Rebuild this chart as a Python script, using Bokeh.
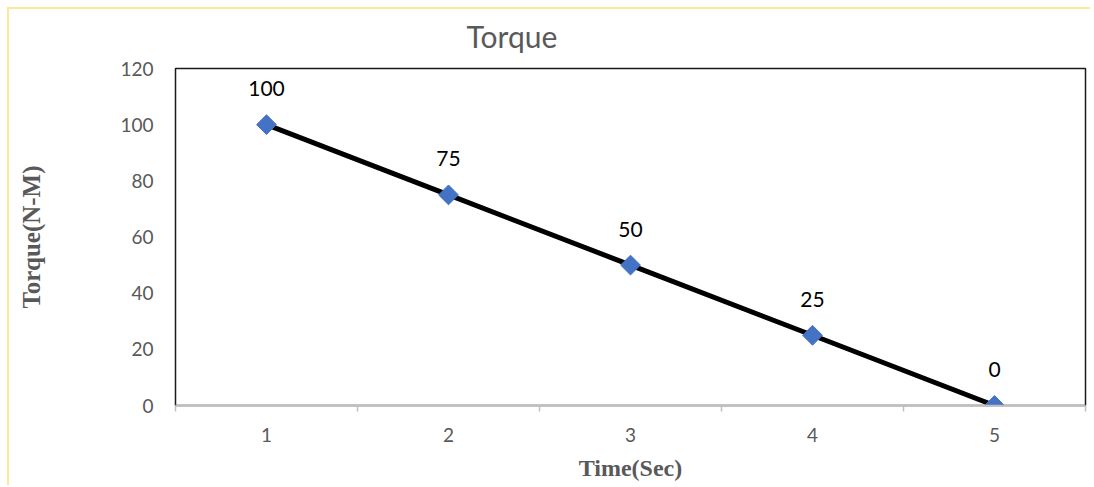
from bokeh.plotting import figure
from bokeh.models import Range1d, FixedTicker, ColumnDataSource
from bokeh.core.properties import value
from bokeh.embed import file_html
from bokeh.resources import INLINE
import math

# ---- data ----
time_sec = [1, 2, 3, 4, 5]
torque = [100, 75, 50, 25, 0]
labels = ["100", "75", "50", "25", "0"]
y_ticks = [0, 20, 40, 60, 80, 100, 120]
x_boundaries = [0.5, 1.5, 2.5, 3.5, 4.5, 5.5]

W, H = 1090, 485
p = figure(width=W, height=H, output_backend="svg", toolbar_location=None,
           x_range=Range1d(0.5, 5.5), y_range=Range1d(0, 120),
           min_border_left=175, min_border_right=5, min_border_top=68, min_border_bottom=80)
p.styles = {"box-shadow": "inset 7px 7px 0 0 white, inset 9px 9px 0 0 #FFE699"}
p.background_fill_color = "white"
p.border_fill_color = None
p.outline_line_color = "#1a1a1a"
p.outline_line_width = 1.5
p.xgrid.visible = False
p.ygrid.visible = False

# title
p.title.text = "Torque"
p.title.align = "left"
p.title.offset = 291
p.title.standoff = 29
p.title.text_font = "Lato"
p.title.text_font_style = "normal"
p.title.text_font_size = "30px"
p.title.text_color = "#595959"

src = ColumnDataSource(dict(x=time_sec, y=torque, t=labels))
p.line("x", "y", source=src, line_color="black", line_width=5)
p.scatter("x", "y", source=src, marker="square", angle=math.pi / 4, size=14,
          fill_color="#4472C4", line_color="#4472C4")
p.text("x", "y", text="t", source=src, y_offset=-36, text_align="center",
       text_baseline="middle", text_font=value("Lato"), text_font_size="21px",
       text_color="black")

tick_font = "Lato"
# x axis
xa = p.xaxis[0]
xa.ticker = FixedTicker(ticks=time_sec, minor_ticks=x_boundaries)
xa.axis_line_color = "#bfbfbf"
xa.axis_line_width = 1.5
xa.major_tick_line_color = None
xa.major_tick_out = 0
xa.major_tick_in = 0
xa.minor_tick_line_color = "#bfbfbf"
xa.minor_tick_line_width = 1.5
xa.minor_tick_out = 6
xa.minor_tick_in = 0
xa.major_label_text_font = tick_font
xa.major_label_text_font_size = "19px"
xa.major_label_text_color = "#595959"
xa.major_label_standoff = 16
xa.axis_label = "Time(Sec)"
xa.axis_label_text_font = "Liberation Serif"
xa.axis_label_text_font_style = "bold"
xa.axis_label_text_font_size = "24px"
xa.axis_label_text_color = "#595959"
xa.axis_label_standoff = 10

# y axis
ya = p.yaxis[0]
ya.ticker = FixedTicker(ticks=y_ticks)
ya.axis_line_color = None
ya.major_tick_line_color = None
ya.minor_tick_line_color = None
ya.major_tick_out = 0
ya.major_tick_in = 0
ya.major_label_text_font = tick_font
ya.major_label_text_font_size = "19px"
ya.major_label_text_color = "#595959"
ya.major_label_standoff = 22
ya.axis_label = "Torque(N-M)"
ya.axis_label_text_font = "Liberation Serif"
ya.axis_label_text_font_style = "bold"
ya.axis_label_text_font_size = "25px"
ya.axis_label_text_color = "#595959"
ya.axis_label_standoff = 72

open("out.html", "w").write(file_html(p, INLINE))
